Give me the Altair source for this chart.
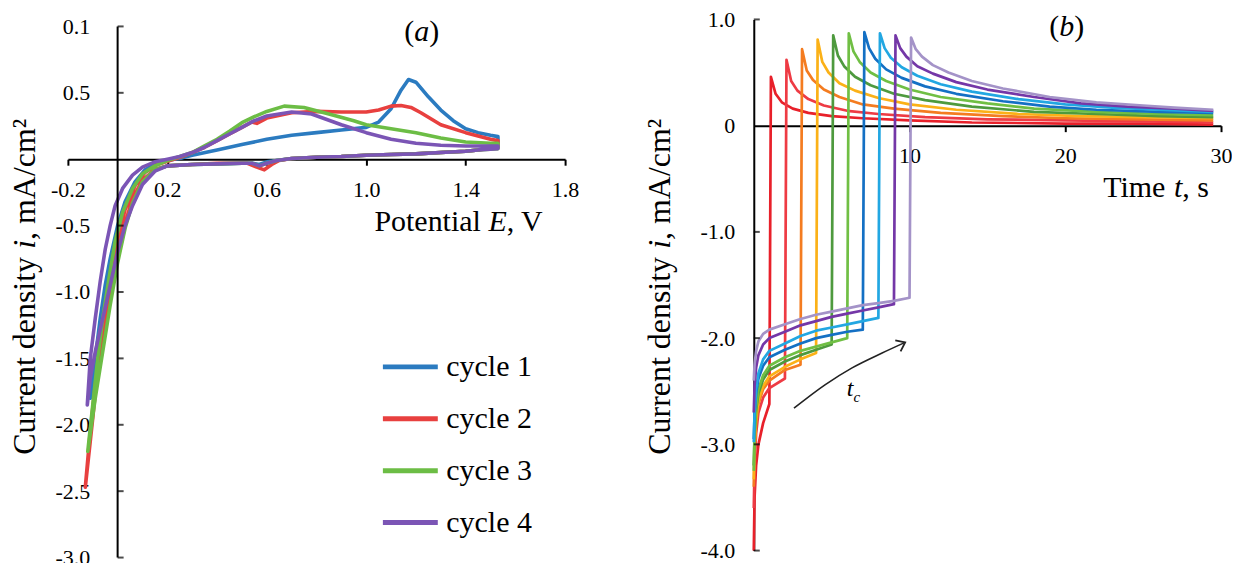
import altair as alt
import pandas as pd

FONT = "Liberation Serif"

# ---------------- panel (a): cyclic voltammograms ----------------
cycle_names = ["cycle 1", "cycle 2", "cycle 3", "cycle 4"]
cycle_colors = ["#2b7bc0", "#e8403f", "#6cbd45", "#7b55b5"]

c1_E = [-0.11, -0.09, -0.07, -0.05, -0.03, 0.0, 0.03, 0.07, 0.11, 0.16, 0.21, 0.26, 0.3, 0.4, 0.5, 0.6, 0.7,
        0.8, 0.9, 1.0, 1.05, 1.1, 1.14, 1.17, 1.2, 1.25, 1.3, 1.35, 1.4, 1.45, 1.5, 1.53,
        1.53, 1.45, 1.4, 1.3, 1.2, 1.1, 1.0, 0.9, 0.8, 0.7, 0.64, 0.6, 0.57, 0.54, 0.5, 0.4, 0.3, 0.2, 0.15,
        0.1, 0.06, 0.03, 0.0, -0.03, -0.06, -0.09, -0.11]
c1_i = [-1.8, -1.5, -1.2, -0.95, -0.75, -0.5, -0.32, -0.17, -0.08, -0.03, -0.005, 0.01, 0.03, 0.07, 0.11, 0.15,
        0.18, 0.2, 0.22, 0.24, 0.28, 0.38, 0.52, 0.6, 0.58, 0.47, 0.37, 0.29, 0.23, 0.2, 0.18, 0.17,
        0.1, 0.07, 0.06, 0.05, 0.04, 0.035, 0.03, 0.02, 0.015, 0.005, -0.01, -0.02, -0.04, -0.03, -0.03,
        -0.035, -0.04, -0.05, -0.08, -0.16, -0.32, -0.5, -0.75, -1.05, -1.35, -1.6, -1.8]

c2_E = [-0.13, -0.1, -0.076, -0.05, -0.03, 0.0, 0.03, 0.07, 0.11, 0.16, 0.21, 0.26, 0.3, 0.35, 0.4, 0.45, 0.5,
        0.54, 0.56, 0.6, 0.7, 0.8, 0.9, 1.0, 1.05, 1.1, 1.14, 1.18, 1.22, 1.3, 1.4, 1.5, 1.53,
        1.53, 1.45, 1.4, 1.3, 1.2, 1.1, 1.0, 0.9, 0.8, 0.7, 0.65, 0.62, 0.59, 0.56, 0.52, 0.4, 0.3, 0.2, 0.15,
        0.1, 0.06, 0.03, 0.0, -0.03, -0.06, -0.09, -0.11, -0.13]
c2_i = [-2.47, -1.95, -1.5, -1.15, -0.9, -0.6, -0.38, -0.2, -0.1, -0.04, -0.01, 0.02, 0.05, 0.09, 0.14, 0.19,
        0.24, 0.28, 0.27, 0.31, 0.35, 0.36, 0.355, 0.355, 0.37, 0.4, 0.405, 0.39, 0.35, 0.26, 0.2, 0.15, 0.14,
        0.09, 0.07, 0.06, 0.05, 0.04, 0.035, 0.03, 0.02, 0.015, 0.005, -0.01, -0.04, -0.08, -0.06, -0.03,
        -0.03, -0.04, -0.05, -0.08, -0.16, -0.3, -0.48, -0.72, -1.0, -1.35, -1.7, -2.05, -2.47]

c3_E = [-0.12, -0.1, -0.08, -0.06, -0.035, -0.01, 0.02, 0.06, 0.1, 0.15, 0.2, 0.25, 0.3, 0.35, 0.4, 0.45, 0.5,
        0.55, 0.6, 0.67, 0.75, 0.85, 0.95, 1.0, 1.1, 1.2, 1.3, 1.4, 1.5, 1.53,
        1.53, 1.45, 1.4, 1.3, 1.2, 1.1, 1.0, 0.9, 0.8, 0.7, 0.64, 0.6, 0.57, 0.54, 0.5, 0.4, 0.3, 0.2, 0.15,
        0.1, 0.06, 0.03, 0.0, -0.03, -0.06, -0.09, -0.12]
c3_i = [-2.2, -1.85, -1.5, -1.2, -0.9, -0.62, -0.4, -0.22, -0.11, -0.05, -0.01, 0.02, 0.05, 0.1, 0.15, 0.21,
        0.275, 0.32, 0.36, 0.4, 0.39, 0.34, 0.29, 0.26, 0.23, 0.2, 0.16, 0.13, 0.12, 0.12,
        0.08, 0.07, 0.06, 0.05, 0.04, 0.035, 0.03, 0.02, 0.015, 0.005, -0.01, -0.03, -0.05, -0.03, -0.03,
        -0.035, -0.04, -0.05, -0.08, -0.17, -0.33, -0.52, -0.78, -1.1, -1.45, -1.8, -2.2]

c4_E = [-0.122, -0.11, -0.09, -0.07, -0.05, -0.03, -0.01, 0.02, 0.06, 0.1, 0.15, 0.2, 0.25, 0.3, 0.35, 0.4,
        0.45, 0.5, 0.55, 0.6, 0.7, 0.78, 0.9, 1.0, 1.1, 1.2, 1.3, 1.4, 1.5, 1.53,
        1.53, 1.45, 1.4, 1.3, 1.2, 1.1, 1.0, 0.9, 0.8, 0.7, 0.64, 0.6, 0.57, 0.54, 0.5, 0.4, 0.3, 0.2, 0.15,
        0.1, 0.06, 0.03, 0.0, -0.03, -0.06, -0.09, -0.11, -0.122]
c4_i = [-1.85, -1.5, -1.2, -0.92, -0.68, -0.5, -0.35, -0.22, -0.12, -0.06, -0.02, 0.0, 0.02, 0.05, 0.09, 0.14,
        0.19, 0.24, 0.29, 0.325, 0.355, 0.34, 0.26, 0.2, 0.15, 0.12, 0.105, 0.1, 0.1, 0.1,
        0.08, 0.07, 0.06, 0.05, 0.04, 0.035, 0.03, 0.02, 0.015, 0.005, -0.01, -0.03, -0.05, -0.03, -0.03,
        -0.035, -0.04, -0.05, -0.09, -0.19, -0.35, -0.5, -0.7, -0.95, -1.2, -1.45, -1.65, -1.85]

a_E_lists = [c1_E, c2_E, c3_E, c4_E]
a_i_lists = [c1_i, c2_i, c3_i, c4_i]

a_xtick_values = [-0.2, 0.2, 0.6, 1.0, 1.4, 1.8]
a_xtick_labels = ["-0.2", "0.2", "0.6", "1.0", "1.4", "1.8"]
a_ytick_values = [1.0, 0.5, -0.5, -1.0, -1.5, -2.0, -2.5, -3.0]
a_ytick_labels = ["0.1", "0.5", "-0.5", "-1.0", "-1.5", "-2.0", "-2.5", "-3.0"]

# ---------------- panel (b): chronoamperometry ----------------
b_names = ["1 s", "2 s", "3 s", "4 s", "5 s", "6 s", "7 s", "8 s", "9 s", "10 s"]
b_colors = ["#e8202a", "#ee3b44", "#f47c20", "#fbb117", "#4e9a3e", "#70bf44",
            "#1470c4", "#22a7e2", "#7437a7", "#a493c8"]
b_cath_t = [0, 0.05, 0.15, 0.3, 0.6, 1, 2, 3, 4, 5, 6, 7, 8, 9, 10]
b_cath_i = [
    [-4.0, -3.5, -3.2, -3.0, -2.8, -2.62],
    [-3.6, -3.2, -2.9, -2.7, -2.56, -2.47, -2.38],
    [-3.4, -3.05, -2.8, -2.62, -2.48, -2.4, -2.3, -2.25],
    [-3.33, -3.0, -2.75, -2.58, -2.45, -2.36, -2.27, -2.2, -2.14],
    [-3.2, -2.9, -2.68, -2.52, -2.39, -2.3, -2.22, -2.16, -2.11, -2.06],
    [-3.25, -2.9, -2.65, -2.48, -2.35, -2.26, -2.18, -2.12, -2.08, -2.04, -2.0],
    [-2.95, -2.72, -2.52, -2.38, -2.26, -2.18, -2.11, -2.05, -2.0, -1.97, -1.94, -1.92],
    [-2.98, -2.7, -2.48, -2.33, -2.2, -2.12, -2.05, -1.98, -1.93, -1.9, -1.87, -1.84, -1.81],
    [-2.7, -2.45, -2.28, -2.16, -2.06, -2.0, -1.94, -1.88, -1.84, -1.8, -1.77, -1.74, -1.71, -1.68],
    [-2.4, -2.25, -2.12, -2.03, -1.96, -1.92, -1.87, -1.82, -1.78, -1.75, -1.72, -1.69, -1.67, -1.65, -1.62],
]
b_anod_t = [
    [1.1, 1.4, 1.8, 2.5, 3.5, 5, 7, 10, 14, 20, 25, 29.5],
    [2.1, 2.4, 2.8, 3.5, 4.5, 6, 8, 11, 15, 20, 25, 29.5],
    [3.1, 3.4, 3.8, 4.5, 5.5, 7, 9, 12, 16, 20, 25, 29.5],
    [4.1, 4.4, 4.8, 5.5, 6.5, 8, 10, 13, 17, 21, 25, 29.5],
    [5.1, 5.4, 5.8, 6.5, 7.5, 9, 11, 14, 18, 22, 26, 29.5],
    [6.1, 6.4, 6.8, 7.5, 8.5, 10, 12, 15, 18, 22, 26, 29.5],
    [7.1, 7.4, 7.8, 8.5, 9.5, 11, 13, 16, 19, 22, 26, 29.5],
    [8.1, 8.4, 8.8, 9.5, 10.5, 12, 14, 17, 20, 23, 26, 29.5],
    [9.1, 9.4, 9.8, 10.5, 11.5, 13, 15, 18, 21, 24, 27, 29.5],
    [10.1, 10.4, 10.8, 11.5, 12.5, 14, 16, 19, 22, 25, 27, 29.5],
]
b_anod_i = [
    [0.46, 0.3, 0.22, 0.16, 0.12, 0.09, 0.07, 0.05, 0.03, 0.02, 0.02, 0.01],
    [0.62, 0.42, 0.33, 0.25, 0.19, 0.14, 0.11, 0.08, 0.06, 0.05, 0.04, 0.03],
    [0.72, 0.52, 0.43, 0.34, 0.27, 0.2, 0.16, 0.12, 0.09, 0.07, 0.06, 0.05],
    [0.81, 0.6, 0.5, 0.4, 0.33, 0.26, 0.2, 0.15, 0.11, 0.09, 0.08, 0.07],
    [0.85, 0.66, 0.56, 0.46, 0.38, 0.3, 0.24, 0.18, 0.13, 0.11, 0.09, 0.08],
    [0.87, 0.7, 0.6, 0.5, 0.42, 0.34, 0.27, 0.21, 0.16, 0.13, 0.11, 0.1],
    [0.88, 0.73, 0.63, 0.53, 0.45, 0.37, 0.3, 0.23, 0.18, 0.15, 0.13, 0.12],
    [0.87, 0.73, 0.64, 0.55, 0.47, 0.39, 0.32, 0.25, 0.2, 0.17, 0.15, 0.13],
    [0.85, 0.73, 0.65, 0.56, 0.49, 0.41, 0.34, 0.27, 0.21, 0.18, 0.16, 0.14],
    [0.83, 0.72, 0.65, 0.57, 0.5, 0.42, 0.35, 0.27, 0.22, 0.19, 0.17, 0.15],
]
b_xtick_values = [10, 20, 30]
b_xtick_labels = ["10", "20", "30"]
b_ytick_values = [1.0, 0.0, -1.0, -2.0, -3.0, -4.0]
b_ytick_labels = ["1.0", "0", "-1.0", "-2.0", "-3.0", "-4.0"]
b_inner_ticks = [1.0, -1.0, -2.0, -3.0, -4.0]

arrow_t = [2.58, 4.57, 6.31, 8.24, 9.72]
arrow_i = [-2.66, -2.44, -2.28, -2.14, -2.04]

# ---------------- layout constants ----------------
PX_A = 133.0                 # px per mA/cm2 in panel (a)
EXTRA_A = 7                  # panel (a) sits 7 px lower than panel (b)
WA, HA = 498, int(4 * PX_A) + EXTRA_A
A_TOP = 1.0 + EXTRA_A / PX_A
WB, HB = 468, 532
TICK = 22
TITLE = 30

ADV = {' ': 250, 'P': 556, 'o': 500, 't': 278, 'e': 444, 'n': 500, 'i': 278, 'a': 444, 'l': 278, ',': 250,
       'V': 722, 'T': 611, 'm': 778, 's': 389, 'C': 667, 'u': 500, 'r': 333, 'd': 500, 'y': 500, 'A': 722,
       '/': 278, 'c': 444, '\u00b2': 300, '(': 333, ')': 333, 'E': 611, 'b': 500}
ADV_IT = {'E': 611, 't': 278, 'i': 278, 'a': 500, 'b': 500, 'c': 444}


def text_width(s, size, italic):
    tab = ADV_IT if italic else ADV
    return sum(tab.get(ch, ADV.get(ch, 500)) for ch in s) * size / 1000.0


def label_expr(values, labels):
    expr = "''"
    for v, l in reversed(list(zip(values, labels))):
        expr = f"abs(datum.value - ({v})) < 1e-9 ? '{l}' : {expr}"
    return expr


one = pd.DataFrame({"k": [0]})


def rich_text(parts, x0, y0, size, angle=0):
    """parts: list of (text, italic). x0,y0 = start of baseline in plot pixels."""
    layers = []
    pos = 0.0
    for txt, it in parts:
        if angle == 0:
            x, y = x0 + pos, y0
        else:
            x, y = x0, y0 - pos
        mk = dict(font=FONT, fontSize=size, color="black", align="left", baseline="alphabetic")
        if it:
            mk["fontStyle"] = "italic"
        if angle:
            mk["angle"] = angle
        layers.append(alt.Chart(one).mark_text(**mk).encode(
            x=alt.value(x), y=alt.value(y), text=alt.value(txt)))
        pos += text_width(txt, size, it)
    return layers


def marker(x, y):
    return alt.Chart(one).mark_point(size=1, opacity=0).encode(x=alt.value(x), y=alt.value(y))


axis_common = dict(domainColor="black", domainWidth=2, tickColor="black", tickWidth=2,
                   labelFont=FONT, labelFontSize=TICK, labelColor="black", grid=False,
                   title=None, labelOverlap=False, labelFlush=False)

# ---------------- build panel (a) ----------------
rows = []
for name, Es, Is in zip(cycle_names, a_E_lists, a_i_lists):
    for k, (e, i) in enumerate(zip(Es, Is)):
        rows.append({"E": e, "i": i, "cycle": name, "idx": k})
df_a = pd.DataFrame(rows)

xa = alt.X("E:Q", scale=alt.Scale(domain=[-0.2, 1.8], nice=False, zero=False),
           axis=alt.Axis(values=a_xtick_values, labelExpr=label_expr(a_xtick_values, a_xtick_labels),
                         offset=-3 * PX_A, tickSize=6, labelPadding=14, **axis_common))
ya = alt.Y("i:Q", scale=alt.Scale(domain=[-3, A_TOP], nice=False, zero=False),
           axis=alt.Axis(values=a_ytick_values, labelExpr=label_expr(a_ytick_values, a_ytick_labels),
                         offset=-WA * 0.1, ticks=False, tickSize=0, labelPadding=28, domain=False,
                         **axis_common))

lines_a = alt.Chart(df_a).mark_line(strokeWidth=3.6, strokeCap="round", strokeJoin="round").encode(
    x=xa, y=ya,
    color=alt.Color("cycle:N", scale=alt.Scale(domain=cycle_names, range=cycle_colors),
                    legend=alt.Legend(orient="none", legendX=313, legendY=318, title=None,
                                      symbolType="stroke", symbolSize=3025, symbolStrokeWidth=5,
                                      labelFont=FONT, labelFontSize=TITLE, labelColor="black",
                                      labelOffset=6, rowPadding=7, padding=0)),
    order="idx:Q",
)

yaxis_line_a = alt.Chart(pd.DataFrame({"E": [0.0], "i": [a_ytick_values[-1]], "i2": [a_ytick_values[0]]})).mark_rule(
    color="black", strokeWidth=2).encode(x="E:Q", y="i:Q", y2="i2:Q")

ticks_a = alt.Chart(pd.DataFrame({"E": [0.0] * len(a_ytick_values), "i": a_ytick_values})).mark_tick(
    orient="horizontal", size=6, thickness=2, xOffset=3, color="black").encode(
    x=alt.X("E:Q"), y=alt.Y("i:Q"))

layers_a = [lines_a, yaxis_line_a, ticks_a]
layers_a += rich_text([("Potential ", False), ("E", True), (", V", False)], 307, 212, TITLE)
layers_a += rich_text([("Current density ", False), ("i", True), (", mA/cm\u00b2", False)], -33, 436, 32, angle=270)
layers_a += rich_text([("(", False), ("a", True), (")", False)], 337, 22, TITLE)
layers_a += [marker(-59, -9), marker(WA + 20, 0)]
panel_a = alt.layer(*layers_a).properties(width=WA, height=HA)

# ---------------- build panel (b) ----------------
rows = []
for n, name in enumerate(b_names):
    k = 0
    ci = b_cath_i[n]
    for t, v in zip(b_cath_t[:len(ci)], ci):
        rows.append({"t": t, "i": v, "series": name, "idx": k}); k += 1
    for t, v in zip(b_anod_t[n], b_anod_i[n]):
        rows.append({"t": t, "i": v, "series": name, "idx": k}); k += 1
df_b = pd.DataFrame(rows)

xb = alt.X("t:Q", scale=alt.Scale(domain=[0, 30], nice=False, zero=False),
           axis=alt.Axis(values=b_xtick_values, labelExpr=label_expr(b_xtick_values, b_xtick_labels),
                         offset=-HB * 0.8, tickSize=6, labelPadding=14, **axis_common))
yb = alt.Y("i:Q", scale=alt.Scale(domain=[-4, 1], nice=False, zero=False),
           axis=alt.Axis(values=b_ytick_values, labelExpr=label_expr(b_ytick_values, b_ytick_labels),
                         ticks=False, tickSize=0, labelPadding=19, **axis_common))

lines_b = alt.Chart(df_b).mark_line(strokeWidth=2.7, strokeJoin="round").encode(
    x=xb, y=yb,
    color=alt.Color("series:N", scale=alt.Scale(domain=b_names, range=b_colors), legend=None),
    order="idx:Q",
)
ticks_b = alt.Chart(pd.DataFrame({"t": [0.0] * len(b_inner_ticks), "i": b_inner_ticks})).mark_tick(
    orient="horizontal", size=6, thickness=2, xOffset=3, color="black").encode(
    x=alt.X("t:Q"), y=alt.Y("i:Q"))

df_arrow = pd.DataFrame({"t": arrow_t, "i": arrow_i, "idx": list(range(len(arrow_t)))})
arrow_line = alt.Chart(df_arrow).mark_line(color="#222222", strokeWidth=1.6, interpolate="monotone").encode(
    x="t:Q", y="i:Q", order="idx:Q")
arrow_head = alt.Chart(df_arrow.tail(1)).mark_point(
    shape="M -1 -0.75 L 0 0 L -1 0.75", filled=False, size=260, strokeWidth=1.8,
    color="#222222", angle=334, opacity=1).encode(x="t:Q", y="i:Q")

layers_b = [lines_b, ticks_b, arrow_line, arrow_head]
layers_b += rich_text([("Time ", False), ("t", True), (", s", False)], 350, 178, TITLE)
layers_b += rich_text([("Current density ", False), ("i", True), (", mA/cm\u00b2", False)], -84, 436, 32, angle=270)
layers_b += rich_text([("(", False), ("b", True), (")", False)], 296, 17, TITLE)
layers_b += rich_text([("t", True)], 93, 377, 24)
layers_b += rich_text([("c", True)], 100, 383, 15)
layers_b += [marker(-110, -9)]
panel_b = alt.layer(*layers_b).properties(width=WB, height=HB)

chart = alt.hconcat(panel_a, panel_b, spacing=57).resolve_scale(color="independent").properties(
    padding=0
).configure_view(stroke=None)

chart.save("out.html", embed_options={"renderer": "svg", "actions": False})
